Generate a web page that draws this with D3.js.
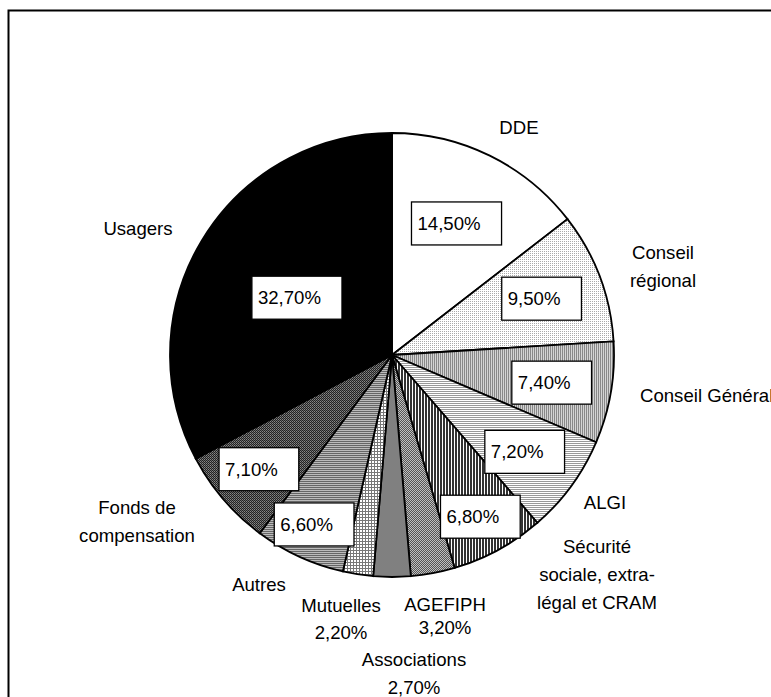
<!DOCTYPE html>
<html lang="fr">
<head>
<meta charset="UTF-8">
<title>Financements</title>
<script src="https://d3js.org/d3.v7.min.js"></script>
<style>
  html, body { margin: 0; padding: 0; background: #fff; }
  svg { display: block; font-family: Arial, "Liberation Sans", sans-serif; }
  .slice { stroke: #000; stroke-width: 1.8; }
  .val-box { fill: #fff; stroke: #000; stroke-width: 1.3; }
  .txt { font-size: 18.6px; fill: #000; }
</style>
</head>
<body>
<svg id="canvas"></svg>
<script>
// data
let categories = ['DDE', 'Conseil régional', 'Conseil Général', 'ALGI',
  'Sécurité sociale, extra-légal et CRAM', 'AGEFIPH', 'Associations',
  'Mutuelles', 'Autres', 'Fonds de compensation', 'Usagers'];
let shares = [14.5, 9.5, 7.4, 7.2, 6.8, 3.2, 2.7, 2.2, 6.6, 7.1, 32.7];
let valueLabels = ['14,50%', '9,50%', '7,40%', '7,20%', '6,80%', '3,20%',
  '2,70%', '2,20%', '6,60%', '7,10%', '32,70%'];
let nameLines = [['DDE'], ['Conseil', 'régional'], ['Conseil Général'], ['ALGI'],
  ['Sécurité', 'sociale, extra-', 'légal et CRAM'], ['AGEFIPH', '3,20%'],
  ['Associations', '2,70%'], ['Mutuelles', '2,20%'], ['Autres'],
  ['Fonds de', 'compensation'], ['Usagers']];
let boxedValue = [true, true, true, true, true, false, false, false, true, true, true];

// layout
let width = 771;
let height = 697;
let cx = 392, cy = 355, radius = 222;
// distance of each value box from the centre (fraction of radius)
let boxDist = [0.66, 0.72, 0.73, 0.74, 0.83, 0, 0, 0, 0.84, 0.79, 0.50];
// name label anchor: [x, first baseline, line step, anchor]
let namePos = [[519, 134, 28, 'middle'], [663, 259, 28, 'middle'], [640, 402, 28, 'start'],
  [605, 509, 28, 'middle'], [597, 553, 28, 'middle'], [445, 611, 23, 'middle'],
  [414, 666, 28, 'middle'], [341, 612, 27, 'middle'], [259, 591, 28, 'middle'],
  [137, 514, 28, 'middle'], [138, 235, 28, 'middle']];

let svg = d3.select('#canvas').attr('width', width).attr('height', height);
let defs = svg.append('defs');

// fill patterns
let makePattern = (id, size, bg, draw) => {
  let p = defs.append('pattern').attr('id', id)
    .attr('patternUnits', 'userSpaceOnUse')
    .attr('width', size).attr('height', size);
  p.append('rect').attr('width', size).attr('height', size).attr('fill', bg);
  draw(p);
};
makePattern('p-dots', 2, '#fff', p => {
  p.append('rect').attr('width', 1).attr('height', 1).attr('fill', '#aaa');
});
makePattern('p-vgray', 2, '#d4d4d4', p => {
  p.append('rect').attr('width', 1).attr('height', 2).attr('fill', '#888');
});
makePattern('p-hlight', 2, '#fff', p => {
  p.append('rect').attr('width', 2).attr('height', 1).attr('fill', '#999');
});
makePattern('p-vdark', 3, '#fff', p => {
  p.append('rect').attr('width', 2).attr('height', 3).attr('fill', '#333');
});
makePattern('p-check', 2, '#c0c0c0', p => {
  p.append('rect').attr('width', 1).attr('height', 1).attr('fill', '#555');
  p.append('rect').attr('x', 1).attr('y', 1).attr('width', 1).attr('height', 1).attr('fill', '#555');
});
makePattern('p-grid', 3, '#fff', p => {
  p.append('rect').attr('width', 3).attr('height', 1).attr('fill', '#777');
  p.append('rect').attr('width', 1).attr('height', 3).attr('fill', '#777');
});
makePattern('p-hgray', 2, '#bbb', p => {
  p.append('rect').attr('width', 2).attr('height', 1).attr('fill', '#666');
});
makePattern('p-darkcheck', 2, '#222', p => {
  p.append('rect').attr('width', 1).attr('height', 1).attr('fill', '#888');
  p.append('rect').attr('x', 1).attr('y', 1).attr('width', 1).attr('height', 1).attr('fill', '#666');
});

let fills = ['#fff', 'url(#p-dots)', 'url(#p-vgray)', 'url(#p-hlight)', 'url(#p-vdark)',
  'url(#p-check)', '#808080', 'url(#p-grid)', 'url(#p-hgray)', 'url(#p-darkcheck)', '#000'];

// frame
svg.append('rect')
  .attr('x', 8.5).attr('y', 10.5)
  .attr('width', 800).attr('height', 720)
  .attr('fill', 'none').attr('stroke', '#000').attr('stroke-width', 2);

let pie = d3.pie().sort(null).value(d => d);
let arcs = pie(shares);
let arc = d3.arc().innerRadius(0).outerRadius(radius);

let g = svg.append('g').attr('transform', `translate(${cx},${cy})`);

g.selectAll('path.slice')
  .data(arcs)
  .enter()
  .append('path')
  .attr('class', 'slice')
  .attr('d', arc)
  .attr('fill', (d, i) => fills[i]);

// value boxes
arcs.forEach((d, i) => {
  if (!boxedValue[i]) return;
  let a = (d.startAngle + d.endAngle) / 2;
  let r = radius * boxDist[i];
  let x = Math.sin(a) * r;
  let y = -Math.cos(a) * r;
  let t = g.append('text').attr('class', 'txt')
    .attr('y', y + 6.5)
    .text(valueLabels[i]);
  let w = t.node().getComputedTextLength();
  let bw = w + 27;
  g.insert('rect', function () { return t.node(); })
    .attr('class', 'val-box')
    .attr('x', x - bw / 2).attr('y', y - 21.5)
    .attr('width', bw).attr('height', 43);
  t.attr('x', x - bw / 2 + 6);
});

// category labels
nameLines.forEach((lines, i) => {
  let [x, y, step, anchor] = namePos[i];
  let t = svg.append('text').attr('class', 'txt').attr('text-anchor', anchor);
  lines.forEach((ln, j) => {
    t.append('tspan').attr('x', x).attr('y', y + j * step).text(ln);
  });
});
</script>
</body>
</html>
